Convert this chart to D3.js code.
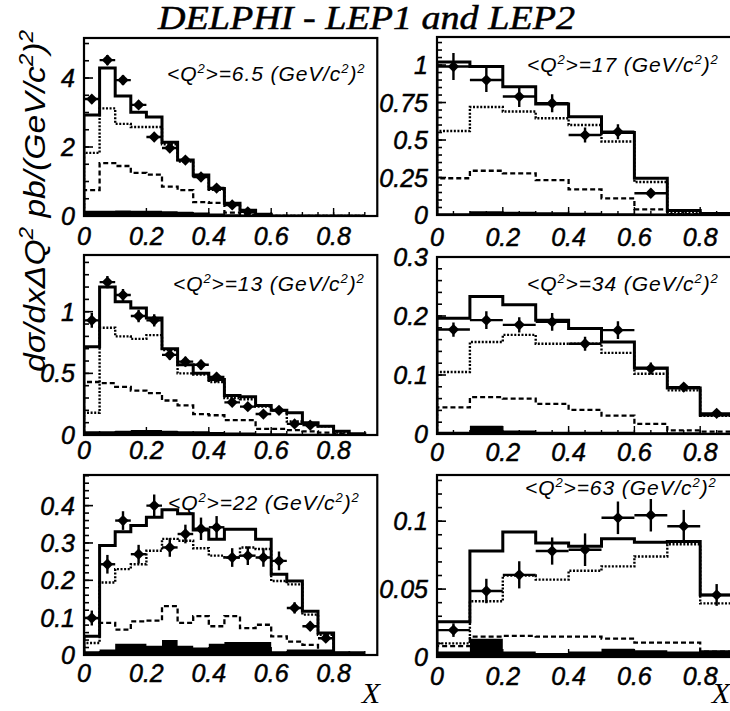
<!DOCTYPE html>
<html>
<head>
<meta charset="utf-8">
<script src="https://cdn.jsdelivr.net/npm/d3@7"></script>
<style>
  body { margin: 0; background: #fff; }
  svg { display: block; }
  .tick-label { font-family: "Liberation Sans", Arial, sans-serif; font-style: italic; font-size: 25px; stroke: #000; stroke-width: 0.5px; }
  .note { font-family: "Liberation Sans", Arial, sans-serif; font-style: italic; font-size: 21px; letter-spacing: 0.9px; }
</style>
</head>
<body>
<div id="chart"></div>
<script>
const width = 730;
const height = 711;

// bin lower edges (0.05 wide on the left column, 0.1 wide on the right column)
const fineEdges = [0, 0.05, 0.1, 0.15, 0.2, 0.25, 0.3, 0.35, 0.4, 0.45, 0.5, 0.55, 0.6, 0.65, 0.7, 0.75, 0.8, 0.85];
const coarseEdges = [0, 0.1, 0.2, 0.3, 0.4, 0.5, 0.6, 0.7, 0.8];
const xTicks = [0, 0.2, 0.4, 0.6, 0.8];

// <Q2> = 6.5
const total1  = [2.93, 4.29, 3.48, 3.01, 2.87, 2.14, 1.62, 1.19, 0.80, 0.37, 0.17, 0.05, 0, 0, 0, 0, 0, 0];
const dotted1 = [1.83, 3.12, 2.67, 2.58, 2.58, 2.08, 1.58, 1.15, 0.76, 0.33, 0.14, 0.04, 0, 0, 0, 0, 0, 0];
const dashed1 = [0.75, 1.53, 1.45, 1.25, 1.20, 0.85, 0.75, 0.40, 0.38, 0.10, 0.05, 0.02, 0, 0, 0, 0, 0, 0];
const black1  = [0.15, 0.15, 0.16, 0.15, 0.15, 0.14, 0.12, 0.10, 0.07, 0.05, 0.04, 0.03, 0.02, 0.02, 0.01, 0.01, 0.01, 0.01];
const data1   = [3.39, 4.52, 3.94, 3.22, 2.29, 1.97, 1.62, 1.13, 0.81, 0.32, 0.12];
const err1    = [0.12, 0.15, 0.14, 0.12, 0.10, 0.09, 0.08, 0.07, 0.06, 0.05, 0.04];
const yTicks1 = [0, 2, 4];

// <Q2> = 17
const total2  = [1.02, 0.99, 0.855, 0.74, 0.655, 0.55, 0.245, 0.03, 0.01];
const dotted2 = [0.56, 0.72, 0.69, 0.645, 0.60, 0.49, 0.22, 0.02, 0.005];
const dashed2 = [0.245, 0.295, 0.278, 0.233, 0.171, 0.111, 0.038, 0.005, 0];
const black2  = [0.012, 0.025, 0.022, 0.018, 0.015, 0.012, 0.01, 0.012, 0.004];
const data2   = [0.99, 0.90, 0.79, 0.745, 0.533, 0.555, 0.145];
const err2    = [0.09, 0.08, 0.07, 0.06, 0.05, 0.05, 0.03];
const yTicks2 = [0, 0.25, 0.5, 0.75, 1];

// <Q2> = 13
const total3  = [0.716, 1.20, 1.08, 1.03, 0.95, 0.70, 0.57, 0.50, 0.45, 0.32, 0.31, 0.24, 0.20, 0.18, 0.10, 0.07, 0.03, 0.01];
const dotted3 = [0.18, 0.87, 0.80, 0.78, 0.81, 0.69, 0.50, 0.49, 0.43, 0.30, 0.29, 0.23, 0.20, 0.11, 0.095, 0.07, 0.02, 0.005];
const dashed3 = [0.43, 0.42, 0.39, 0.36, 0.34, 0.28, 0.24, 0.17, 0.16, 0.12, 0.12, 0.05, 0.05, 0.04, 0.03, 0.02, 0.01, 0];
const black3  = [0.03, 0.03, 0.035, 0.04, 0.04, 0.035, 0.03, 0.03, 0.025, 0.02, 0.02, 0.015, 0.015, 0.01, 0.01, 0.01, 0.01, 0.01];
const data3   = [0.93, 1.24, 1.135, 0.965, 0.93, 0.65, 0.595, 0.57, 0.47, 0.265, 0.23, 0.17, 0.20, 0.09, 0.08];
const err3    = [0.06, 0.05, 0.05, 0.05, 0.05, 0.04, 0.04, 0.04, 0.035, 0.03, 0.03, 0.025, 0.025, 0.02, 0.02];
const yTicks3 = [0, 0.5, 1];

// <Q2> = 34
const total4  = [0.196, 0.233, 0.219, 0.193, 0.179, 0.156, 0.112, 0.078, 0.032];
const dotted4 = [0.105, 0.156, 0.168, 0.153, 0.153, 0.1375, 0.102, 0.074, 0.031];
const dashed4 = [0.045, 0.0625, 0.06, 0.051, 0.041, 0.031, 0.017, 0.006, 0.004];
const black4  = [0.004, 0.014, 0.006, 0.004, 0.004, 0.004, 0.003, 0.003, 0.002];
const data4   = [0.177, 0.193, 0.185, 0.19, 0.153, 0.176, 0.111, 0.0795, 0.035];
const err4    = [0.012, 0.015, 0.013, 0.015, 0.012, 0.015, 0.01, 0.007, 0.004];
const yTicks4 = [0, 0.1, 0.2, 0.3];

// <Q2> = 22
const total5  = [0.05, 0.293, 0.33, 0.347, 0.369, 0.389, 0.378, 0.335, 0.31, 0.337, 0.337, 0.31, 0.216, 0.198, 0.117, 0.059, 0.005, 0];
const dotted5 = [0.032, 0.194, 0.23, 0.243, 0.279, 0.311, 0.306, 0.286, 0.266, 0.261, 0.288, 0.284, 0.198, 0.189, 0.108, 0.054, 0.005, 0];
const dashed5 = [0.099, 0.086, 0.068, 0.09, 0.092, 0.131, 0.086, 0.104, 0.077, 0.104, 0.072, 0.081, 0.05, 0.036, 0.027, 0.009, 0.003, 0];
const black5  = [0.01, 0.015, 0.03, 0.03, 0.025, 0.04, 0.025, 0.02, 0.03, 0.035, 0.035, 0.035, 0.01, 0.015, 0.015, 0.015, 0.01, 0.01];
const data5   = [0.099, 0.243, 0.36, 0.27, 0.40, 0.288, 0.324, 0.338, 0.342, 0.261, 0.266, 0.261, 0.252, 0.126, 0.077, 0.045];
const err5    = [0.02, 0.025, 0.025, 0.025, 0.03, 0.025, 0.025, 0.03, 0.03, 0.025, 0.025, 0.025, 0.025, 0.015, 0.012, 0.01];
const yTicks5 = [0, 0.1, 0.2, 0.3, 0.4];

// <Q2> = 63
const total6  = [0.026, 0.078, 0.092, 0.084, 0.0815, 0.087, 0.0845, 0.085, 0.0457];
const dotted6 = [0.01, 0.041, 0.06, 0.057, 0.0635, 0.0667, 0.074, 0.083, 0.0395];
const dashed6 = [0.008, 0.015, 0.0156, 0.015, 0.015, 0.0136, 0.0106, 0.0106, 0.004];
const black6  = [0.004, 0.0135, 0.004, 0.003, 0.004, 0.006, 0.005, 0.004, 0.005];
const data6   = [0.0198, 0.0486, 0.0605, 0.078, 0.079, 0.1025, 0.1044, 0.0963, 0.0457];
const err6    = [0.005, 0.009, 0.01, 0.01, 0.012, 0.012, 0.012, 0.012, 0.008];
const yTicks6 = [0, 0.05, 0.1];

const q2Values = ["6.5", "17", "13", "34", "22", "63"];

// layout of each frame in pixels
const panels = [
  { q2: q2Values[0], edges: fineEdges,   w: 0.05, total: total1, dotted: dotted1, dashed: dashed1, black: black1, data: data1, err: err1, yTicks: yTicks1, yMax: 5.16,  minor: 0.5,  left: 84,  unit: 312, top: 38,  bottom: 216, noteX: 167, noteY: 81,  labOff: 29 },
  { q2: q2Values[1], edges: coarseEdges, w: 0.1,  total: total2, dotted: dotted2, dashed: dashed2, black: black2, data: data2, err: err2, yTicks: yTicks2, yMax: 1.187, minor: 0.05, left: 437, unit: 329, top: 37,  bottom: 215, noteX: 527, noteY: 72,  labOff: 31 },
  { q2: q2Values[2], edges: fineEdges,   w: 0.05, total: total3, dotted: dotted3, dashed: dashed3, black: black3, data: data3, err: err3, yTicks: yTicks3, yMax: 1.46,  minor: 0.1,  left: 84,  unit: 312, top: 255, bottom: 435, noteX: 173, noteY: 291, labOff: 24 },
  { q2: q2Values[3], edges: coarseEdges, w: 0.1,  total: total4, dotted: dotted4, dashed: dashed4, black: black4, data: data4, err: err4, yTicks: yTicks4, yMax: 0.3,   minor: 0.02, left: 437, unit: 329, top: 257, bottom: 434, noteX: 527, noteY: 291, labOff: 27 },
  { q2: q2Values[4], edges: fineEdges,   w: 0.05, total: total5, dotted: dotted5, dashed: dashed5, black: black5, data: data5, err: err5, yTicks: yTicks5, yMax: 0.482, minor: 0.02, left: 84,  unit: 312, top: 475, bottom: 655, noteX: 168, noteY: 510, labOff: 27 },
  { q2: q2Values[5], edges: coarseEdges, w: 0.1,  total: total6, dotted: dotted6, dashed: dashed6, black: black6, data: data6, err: err6, yTicks: yTicks6, yMax: 0.134, minor: 0.01, left: 437, unit: 329, top: 475, bottom: 657, noteX: 525, noteY: 495, labOff: 28 }
];

const xMax = 0.94;

const svg = d3.select("#chart")
  .append("svg")
  .attr("width", width)
  .attr("height", height)
  .style("background", "#fff");

// text with superscript pieces: [text, isSup]
function richText(sel, parts, supShift, supSize) {
  let up = false;
  parts.forEach(([txt, sup]) => {
    const ts = sel.append("tspan").text(txt);
    if (sup && !up) { ts.attr("dy", -supShift).style("font-size", supSize); up = true; }
    else if (sup) { ts.style("font-size", supSize); }
    else if (up) { ts.attr("dy", supShift); up = false; }
  });
}

panels.forEach((p, k) => {
  const x = d3.scaleLinear().domain([0, xMax]).range([p.left, p.left + xMax * p.unit]);
  const y = d3.scaleLinear().domain([0, p.yMax]).range([p.bottom, p.top]);

  const g = svg.append("g");
  const clipId = "clip" + k;
  g.append("clipPath").attr("id", clipId)
    .append("rect")
    .attr("x", x(0)).attr("y", y(p.yMax))
    .attr("width", x(xMax) - x(0)).attr("height", y(0) - y(p.yMax));
  const plot = g.append("g").attr("clip-path", `url(#${clipId})`);

  const lastEdge = p.edges[p.edges.length - 1] + p.w;

  // black filled component
  const area = d3.area()
    .curve(d3.curveStepAfter)
    .x(d => x(d[0]))
    .y0(y(0))
    .y1(d => y(d[1]));
  const blackPts = p.edges.map((e, i) => [e, p.black[i]]);
  blackPts.push([lastEdge, p.black[p.black.length - 1]]);
  plot.append("path").attr("d", area(blackPts)).attr("fill", "#000");

  const step = d3.line().curve(d3.curveStepAfter).x(d => x(d[0])).y(d => y(d[1]));
  const histPts = vals => [[p.edges[0], 0], ...p.edges.map((e, i) => [e, vals[i]]), [lastEdge, 0]];

  plot.append("path").attr("d", step(histPts(p.dashed)))
    .attr("fill", "none").attr("stroke", "#000").attr("stroke-width", 2.3)
    .attr("stroke-dasharray", "5,3");
  plot.append("path").attr("d", step(histPts(p.dotted)))
    .attr("fill", "none").attr("stroke", "#000").attr("stroke-width", 2.4)
    .attr("stroke-dasharray", "2,1.6");
  plot.append("path").attr("d", step(histPts(p.total)))
    .attr("fill", "none").attr("stroke", "#000").attr("stroke-width", 3);

  // data points with error bars
  const pts = plot.append("g").selectAll("g")
    .data(p.data.map((v, i) => ({ lo: p.edges[i], v, e: p.err[i] })))
    .join("g");
  pts.append("line")
    .attr("x1", d => x(d.lo)).attr("x2", d => x(d.lo + p.w))
    .attr("y1", d => y(d.v)).attr("y2", d => y(d.v))
    .attr("stroke", "#000").attr("stroke-width", 2.4);
  pts.append("line")
    .attr("x1", d => x(d.lo + p.w / 2)).attr("x2", d => x(d.lo + p.w / 2))
    .attr("y1", d => y(d.v - d.e)).attr("y2", d => y(d.v + d.e))
    .attr("stroke", "#000").attr("stroke-width", 2.4);
  pts.append("path")
    .attr("d", d3.symbol(d3.symbolSquare, 64))
    .attr("transform", d => `translate(${x(d.lo + p.w / 2)},${y(d.v)}) rotate(45)`)
    .attr("fill", "#000");

  // ticks inside the frame
  const yMinor = d3.range(0, p.yMax + 1e-9, p.minor);
  g.append("g").selectAll("line").data(yMinor).join("line")
    .attr("x1", x(0)).attr("x2", x(0) + 5)
    .attr("y1", d => y(d)).attr("y2", d => y(d))
    .attr("stroke", "#000").attr("stroke-width", 1.6);
  g.append("g").selectAll("line").data(p.yTicks).join("line")
    .attr("x1", x(0)).attr("x2", x(0) + 9)
    .attr("y1", d => y(d)).attr("y2", d => y(d))
    .attr("stroke", "#000").attr("stroke-width", 1.6);
  const xMinor = d3.range(0, xMax, 0.05);
  g.append("g").selectAll("line").data(xMinor).join("line")
    .attr("x1", d => x(d)).attr("x2", d => x(d))
    .attr("y1", y(0)).attr("y2", y(0) - 4)
    .attr("stroke", "#000").attr("stroke-width", 1.4);
  g.append("g").selectAll("line").data(xTicks).join("line")
    .attr("x1", d => x(d)).attr("x2", d => x(d))
    .attr("y1", y(0)).attr("y2", y(0) - 8)
    .attr("stroke", "#000").attr("stroke-width", 1.4);

  // frame
  g.append("rect")
    .attr("x", x(0)).attr("y", y(p.yMax))
    .attr("width", x(xMax) - x(0)).attr("height", y(0) - y(p.yMax))
    .attr("fill", "none").attr("stroke", "#000").attr("stroke-width", 2.2);

  // tick labels
  g.append("g").selectAll("text").data(xTicks).join("text")
    .attr("class", "tick-label")
    .attr("x", d => x(d)).attr("y", y(0) + p.labOff)
    .attr("text-anchor", "middle")
    .text(d => String(d));
  g.append("g").selectAll("text").data(p.yTicks).join("text")
    .attr("class", "tick-label")
    .attr("x", x(0) - 9).attr("y", d => y(d))
    .attr("dy", "0.36em")
    .attr("text-anchor", "end")
    .text(d => String(d));

  // <Q2> annotation
  const note = g.append("text").attr("class", "note")
    .attr("x", p.noteX).attr("y", p.noteY);
  richText(note, [["<Q", 0], ["2", 1], [">=" + p.q2 + " (GeV/c", 0], ["2", 1], [")", 0], ["2", 1]], 8, "13px");
});

// title
svg.append("text")
  .attr("x", 158).attr("y", 29)
  .attr("textLength", 417).attr("lengthAdjust", "spacingAndGlyphs")
  .style("font-family", "'Liberation Serif', 'Times New Roman', serif")
  .style("font-style", "italic")
  .style("font-size", "33px")
  .style("stroke", "#000").style("stroke-width", "0.5px")
  .text("DELPHI -  LEP1 and LEP2");

// y axis title
const ylab = svg.append("text")
  .attr("transform", "translate(45,372) rotate(-90)")
  .attr("textLength", 342).attr("lengthAdjust", "spacingAndGlyphs")
  .style("font-family", "'Liberation Sans', Arial, sans-serif")
  .style("font-style", "italic")
  .style("font-size", "30px");
richText(ylab, [["d\u03c3/dx\u0394Q", 0], ["2", 1], ["  pb/(GeV/c", 0], ["2", 1], [")", 0], ["2", 1]], 12, "20px");

// x axis titles
[371, 721].forEach(cx => {
  svg.append("text")
    .attr("x", cx).attr("y", 703)
    .attr("text-anchor", "middle")
    .style("font-family", "'Liberation Serif', 'Times New Roman', serif")
    .style("font-style", "italic")
    .style("font-size", "30px")
    .text("X");
});
</script>
</body>
</html>
